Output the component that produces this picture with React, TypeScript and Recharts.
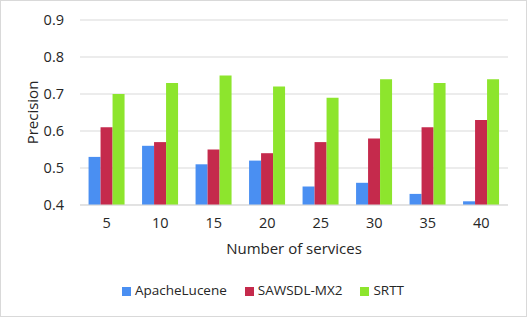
import React from "react";
import { BarChart, Bar, XAxis, YAxis, CartesianGrid, Legend } from "recharts";

const services = ["5", "10", "15", "20", "25", "30", "35", "40"];
const apacheLucene = [0.53, 0.56, 0.51, 0.52, 0.45, 0.46, 0.43, 0.41];
const sawsdlMx2 = [0.61, 0.57, 0.55, 0.54, 0.57, 0.58, 0.61, 0.63];
const srtt = [0.7, 0.73, 0.75, 0.72, 0.69, 0.74, 0.73, 0.74];
const yTicks = [0.4, 0.5, 0.6, 0.7, 0.8, 0.9];

const FONT = "'Open Sans', 'Noto Sans', sans-serif";
const TEXT = "#262626";

const data = services.map((s, i) => ({
  name: s,
  apache: apacheLucene[i],
  sawsdl: sawsdlMx2[i],
  srtt: srtt[i],
}));

// rotated y label, centred on the plot height
const YLabel = ({ viewBox }: { viewBox?: { x: number; y: number; width: number; height: number } }) => {
  if (!viewBox) return null;
  const cx = viewBox.x + 32;
  const cy = viewBox.y + viewBox.height / 2;
  return (
    <text
      x={cx}
      y={cy}
      transform={`rotate(-90, ${cx}, ${cy})`}
      textAnchor="middle"
      dominantBaseline="central"
      fill={TEXT}
      style={{ fontFamily: FONT, fontSize: 15 }}
    >
      Precision
    </text>
  );
};

export default function App() {
  return (
    <div
      style={{
        position: "absolute",
        left: 0,
        top: 0,
        width: 525,
        height: 315,
        border: "1px solid #d9d9d9",
        background: "#fff",
      }}
    >
      <div style={{ position: "absolute", left: -1, top: -1 }}>
        <BarChart
          width={527}
          height={317}
          data={data}
          margin={{ top: 20, right: 19, left: 0, bottom: 17 }}
          barCategoryGap="16%"
          barGap={0}
        >
          <CartesianGrid vertical={false} stroke="#d9d9d9" />
          <XAxis
            dataKey="name"
            height={75}
            tickLine={false}
            axisLine={{ stroke: "#d9d9d9" }}
            tickMargin={7}
            tick={{ fill: TEXT, fontSize: 14.5, fontFamily: FONT }}
            label={{
              value: "Number of services",
              position: "insideBottom",
              offset: 26,
              fill: TEXT,
              fontSize: 15,
              fontFamily: FONT,
            }}
          />
          <YAxis
            width={80}
            domain={[0.4, 0.9]}
            ticks={yTicks}
            tickFormatter={(v: number) => v.toFixed(1)}
            axisLine={false}
            tickLine={false}
            tickMargin={10}
            tick={{ fill: TEXT, fontSize: 14.5, fontFamily: FONT }}
            label={<YLabel />}
          />
          <Legend
            verticalAlign="bottom"
            align="center"
            iconType="square"
            iconSize={9}
            formatter={(value: string) => (
              <span style={{ color: TEXT, fontFamily: FONT, fontSize: 13.5, paddingRight: 8 }}>{value}</span>
            )}
            wrapperStyle={{ lineHeight: "20px", left: 18 }}
          />
          <Bar dataKey="apache" name="ApacheLucene" fill="#4a8ff2" isAnimationActive={false} />
          <Bar dataKey="sawsdl" name="SAWSDL-MX2" fill="#c52a4c" isAnimationActive={false} />
          <Bar dataKey="srtt" name="SRTT" fill="#8de52d" isAnimationActive={false} />
        </BarChart>
      </div>
    </div>
  );
}
